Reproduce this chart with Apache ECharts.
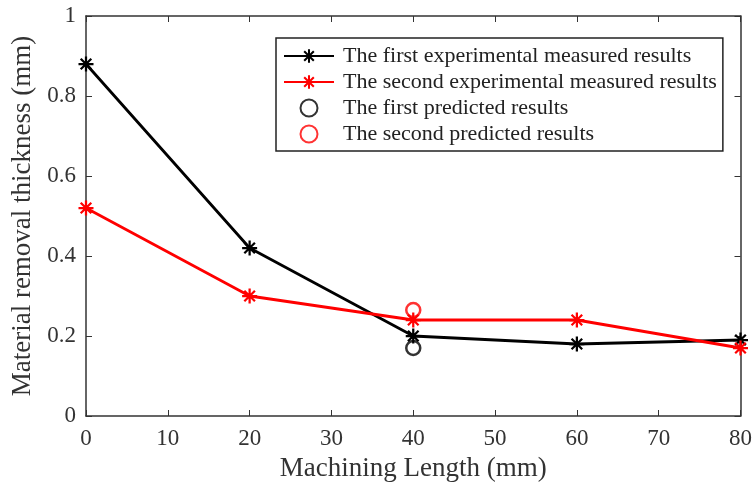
<!DOCTYPE html>
<html>
<head>
<meta charset="utf-8">
<script src="https://cdn.jsdelivr.net/npm/echarts@6/dist/echarts.min.js"></script>
<style>
  html, body { margin: 0; padding: 0; background: #fff; }
  #chart { width: 755px; height: 487px; }
</style>
</head>
<body>
<div id="chart"></div>
<script>
// data
var lengths = [0, 20, 40, 60, 80];
var firstMeasured = [0.88, 0.42, 0.20, 0.18, 0.19];
var secondMeasured = [0.52, 0.30, 0.24, 0.24, 0.17];
var predictedAt = [40];
var firstPredicted = [0.17];
var secondPredicted = [0.265];

var names = [
    "The first experimental measured results",
    "The second experimental measured results",
    "The first predicted results",
    "The second predicted results"
];

// matlab style '*' marker
var star = 'path://M-10,-1.5L10,-1.5L10,1.5L-10,1.5Z' +
    'M1.5,-10L1.5,10L-1.5,10L-1.5,-10Z' +
    'M-6.01,-8.13L8.13,6.01L6.01,8.13L-8.13,-6.01Z' +
    'M-8.13,6.01L6.01,-8.13L8.13,-6.01L-6.01,8.13Z';

function pairs(xs, ys) {
    var out = [];
    for (var i = 0; i < xs.length; i++) {
        out.push([xs[i], ys[i]]);
    }
    return out;
}

var font = 'Liberation Serif';
var axisCol = '#333';

var chart = echarts.init(document.getElementById('chart'));

var option = {
    backgroundColor: '#fff',
    animation: false,
    grid: { left: 86, right: 13, top: 16, bottom: 71 },
    legend: {
        orient: 'vertical',
        left: 276,
        top: 38,
        padding: [7, 6, 6, 7],
        itemGap: 4,
        itemWidth: 50,
        itemHeight: 17,
        backgroundColor: '#fff',
        borderColor: '#222',
        borderWidth: 1.5,
        borderRadius: 0,
        textStyle: { fontFamily: font, fontSize: 22, color: '#222', padding: [0, 0, 0, 4] },
        data: names
    },
    xAxis: [{
        type: 'value',
        min: 0, max: 80, interval: 10,
        name: 'Machining Length (mm)',
        nameLocation: 'middle',
        nameGap: 39,
        nameTextStyle: { fontFamily: font, fontSize: 27, color: axisCol },
        axisLine: { show: true, lineStyle: { color: axisCol, width: 1.5 } },
        axisTick: { show: true, inside: true, length: 6, lineStyle: { color: axisCol } },
        axisLabel: { fontFamily: font, fontSize: 23, color: axisCol, margin: 11 },
        splitLine: { show: false }
    }, {
        type: 'value',
        position: 'top',
        min: 0, max: 80, interval: 10,
        axisLine: { show: true, onZero: false, lineStyle: { color: axisCol, width: 1.5 } },
        axisTick: { show: true, inside: true, length: 6, lineStyle: { color: axisCol } },
        axisLabel: { show: false },
        splitLine: { show: false }
    }],
    yAxis: [{
        type: 'value',
        min: 0, max: 1, interval: 0.2,
        name: 'Material removal thickness (mm)',
        nameLocation: 'middle',
        nameGap: 45,
        nameTextStyle: { fontFamily: font, fontSize: 27, color: axisCol },
        axisLine: { show: true, lineStyle: { color: axisCol, width: 1.5 } },
        axisTick: { show: true, inside: true, length: 6, lineStyle: { color: axisCol } },
        axisLabel: {
            fontFamily: font, fontSize: 23, color: axisCol, margin: 10,
            formatter: function (v) { return String(Math.round(v * 10) / 10); }
        },
        splitLine: { show: false }
    }, {
        type: 'value',
        position: 'right',
        min: 0, max: 1, interval: 0.2,
        axisLine: { show: true, onZero: false, lineStyle: { color: axisCol, width: 1.5 } },
        axisTick: { show: true, inside: true, length: 6, lineStyle: { color: axisCol } },
        axisLabel: { show: false },
        splitLine: { show: false }
    }],
    series: [{
        name: names[0],
        type: 'line',
        data: pairs(lengths, firstMeasured),
        symbol: star,
        symbolSize: 15,
        lineStyle: { color: '#000', width: 2.8 },
        itemStyle: { color: '#000' },
        z: 3
    }, {
        name: names[1],
        type: 'line',
        data: pairs(lengths, secondMeasured),
        symbol: star,
        symbolSize: 15,
        lineStyle: { color: '#ff0000', width: 2.8 },
        itemStyle: { color: '#ff0000' },
        z: 4
    }, {
        name: names[2],
        type: 'scatter',
        data: pairs(predictedAt, firstPredicted),
        symbol: 'circle',
        symbolSize: 14,
        itemStyle: { color: 'rgba(0,0,0,0)', borderColor: '#000', borderWidth: 2.5 },
        z: 5
    }, {
        name: names[3],
        type: 'scatter',
        data: pairs(predictedAt, secondPredicted),
        symbol: 'circle',
        symbolSize: 14,
        itemStyle: { color: 'rgba(0,0,0,0)', borderColor: '#ff0000', borderWidth: 2.5 },
        z: 5
    }]
};

chart.setOption(option);
</script>
</body>
</html>
